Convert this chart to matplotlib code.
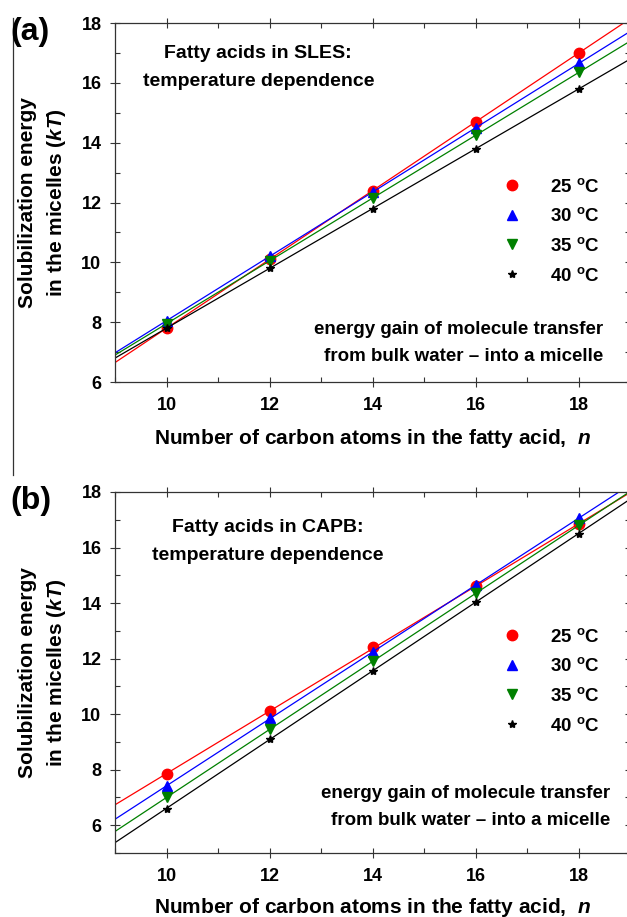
import numpy as np
import matplotlib
matplotlib.use("Agg")
from matplotlib import pyplot as plt
from matplotlib.lines import Line2D
from matplotlib.ticker import MultipleLocator

# carbon number of the fatty acid
n = [10, 12, 14, 16, 18]
temps = ["25", "30", "35", "40"]

# (a) SLES, solubilization energy in kT
sles_25 = [7.8, 10.1, 12.4, 14.7, 17.0]
sles_30 = [8.05, 10.2, 12.35, 14.5, 16.65]
sles_35 = [7.95, 10.05, 12.15, 14.25, 16.35]
sles_40 = [7.8, 9.8, 11.8, 13.8, 15.8]

# (b) CAPB
capb_25 = [7.85, 10.1, 12.4, 14.6, 16.85]
capb_30 = [7.4, 9.85, 12.25, 14.65, 17.05]
capb_35 = [7.0, 9.45, 11.9, 14.35, 16.8]
capb_40 = [6.6, 9.1, 11.55, 14.05, 16.5]

colors = ["#ff0000", "#0000ff", "#008000", "#000000"]
markers = ["o", "^", "v", "*"]
msizes = [7.5, 7, 7, 6]

plt.rcParams["font.family"] = ["Liberation Sans", "DejaVu Sans"]
plt.rcParams["font.weight"] = "bold"
plt.rcParams["axes.labelweight"] = "bold"
plt.rcParams["mathtext.fontset"] = "custom"
plt.rcParams["mathtext.it"] = "Liberation Sans:italic:bold"
plt.rcParams["mathtext.rm"] = "Liberation Sans:bold"

fig = plt.figure(figsize=(6.27, 9.17), dpi=100)
ax_a = fig.add_axes([0.1834, 0.5834, 0.822, 0.3915])
ax_b = fig.add_axes([0.1834, 0.0698, 0.822, 0.3937])


def panel(ax, series, ylim, title, title_xy, note_xy, leg_y, xlab_y, tag):
    xfit = np.array([9, 19])
    for ys, c, m, ms, t in zip(series, colors, markers, msizes, temps):
        k, b = np.polyfit(n, ys, 1)
        ax.plot(xfit, k * xfit + b, color=c, lw=0.9)
        ax.plot(n, ys, linestyle="none", marker=m, color=c, markersize=ms,
                label=t + r" $^\mathregular{o}$C")
    ax.set_xlim(9, 19)
    ax.set_ylim(*ylim)
    ax.xaxis.set_major_locator(MultipleLocator(2))
    ax.xaxis.set_minor_locator(MultipleLocator(1))
    ax.yaxis.set_major_locator(MultipleLocator(2))
    ax.yaxis.set_minor_locator(MultipleLocator(1))
    ax.set_xticks([10, 12, 14, 16, 18])
    ax.tick_params(which="major", direction="inout", length=7.5, width=0.8,
                   top=True, right=True, labelsize=13, color="#333333")
    ax.tick_params(axis="x", which="major", pad=7)
    ax.tick_params(axis="y", which="major", pad=6)
    ax.tick_params(which="minor", direction="in", length=3.5, width=0.8,
                   top=True, right=True, color="#333333")
    for s in ax.spines.values():
        s.set_color("#333333")
        s.set_linewidth(0.9)
    ax.set_xlabel("Number of carbon atoms in the fatty acid,  $n$",
                  fontsize=15)
    ax.xaxis.set_label_coords(0.5, xlab_y)
    ax.set_ylabel("Solubilization energy\nin the micelles ($kT$)",
                  fontsize=15, linespacing=1.5)
    ax.yaxis.set_label_coords(-0.091, 0.5)
    ax.text(title_xy[0], title_xy[1], title, ha="center", va="center",
            fontsize=14, linespacing=1.85)
    ax.text(note_xy[0], note_xy[1], "energy gain of molecule transfer\nfrom bulk water \u2013 into a micelle",
            ha="right", va="center", fontsize=13.5, linespacing=1.8)
    ax.legend(loc="center left", bbox_to_anchor=(0.745, leg_y), frameon=False,
              fontsize=13.5, handletextpad=1.5, labelspacing=0.62,
              handlelength=1.0, borderpad=0.2, borderaxespad=0)
    pos = ax.get_position()
    fig.text(0.017, pos.y1 - 9 / 917, tag, fontsize=23, va="center",
             ha="left")


panel(ax_a, [sles_25, sles_30, sles_35, sles_40], (6, 18),
      "Fatty acids in SLES:\ntemperature dependence", (11.78, 16.5),
      (18.48, 7.3), 0.42, -0.125, "(a)")
panel(ax_b, [capb_25, capb_30, capb_35, capb_40], (5, 18),
      "Fatty acids in CAPB:\ntemperature dependence", (11.97, 16.23),
      (18.6, 6.65), 0.476, -0.118, "(b)")

# thin crop line at the left edge of the original figure
fig.add_artist(Line2D([13 / 627, 13 / 627], [1 - 18 / 917, 1 - 475 / 917],
                      color="#333333", lw=0.9, transform=fig.transFigure))

fig.savefig("out.png", dpi=100)
